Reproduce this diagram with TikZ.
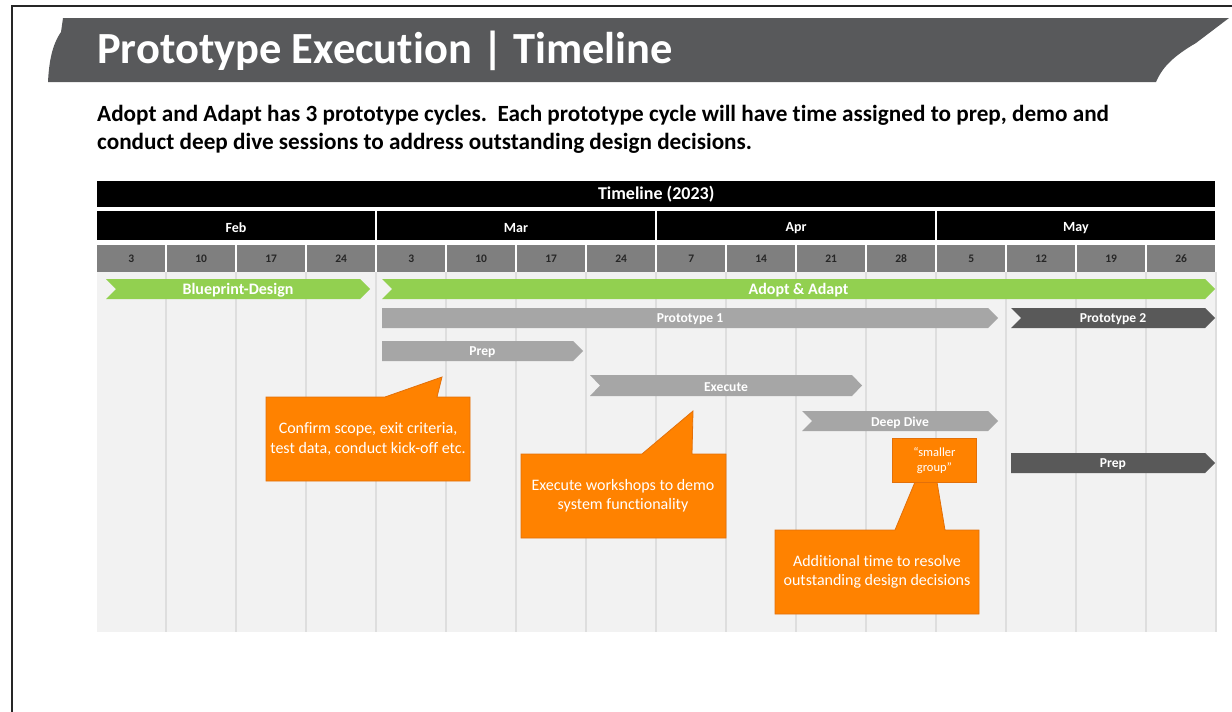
\documentclass[tikz,border=0pt]{standalone}
\usepackage{fontspec}
\setmainfont{Carlito}[Ligatures=NoCommon]
\definecolor{banner}{HTML}{58595B}
\definecolor{weekgray}{HTML}{7F7F7F}
\definecolor{panel}{HTML}{F2F2F2}
\definecolor{gridline}{HTML}{DEDEDE}
\definecolor{leaf}{HTML}{92D050}
\definecolor{lightbar}{HTML}{A6A6A6}
\definecolor{darkbar}{HTML}{595959}
\definecolor{callfill}{RGB}{255,130,0}
\definecolor{callline}{RGB}{226,112,10}
\newcommand{\fs}[1]{\fontsize{#1}{1.2\dimexpr#1pt\relax}\selectfont}
% bar: name, x-left, x-right, y-top, y-bottom, left notch depth, colour, label, font size
\newcommand{\tlbar}[9]{%
  \fill[#7] (#2,#4) -- ({#3-10},#4) -- (#3,{(#4+#5)/2}) -- ({#3-10},#5)
     -- (#2,#5) -- ({#2+#6},{(#4+#5)/2}) -- cycle;
  \node[barlabel,font=\bfseries\fs{#9}] (#1) at ({(#2+#3)/2},{(#4+#5)/2+1.5}) {#8};}
\begin{document}
\begin{tikzpicture}[x=1pt,y=-1pt,
  barlabel/.style={text=white,inner sep=0pt},
  monthcell/.style={fill=black,text=white,inner sep=0pt,anchor=north west,
     minimum width=278pt,minimum height=29pt,font=\bfseries\fs{14}},
  monthlabel/.style={text=white,inner sep=0pt,font=\bfseries\fs{14}},
  weekcell/.style={fill=weekgray,text=black!85,inner sep=0pt,anchor=north west,
     minimum width=68pt,minimum height=27pt,font=\bfseries\fs{11.5}},
  callout/.style={fill=callfill,draw=callline,line width=0.8pt,line join=miter},
  calltext/.style={text=white,align=center,inner sep=0pt,font=\fs{16}}]
\useasboundingbox (0,0) rectangle (1232,712);
% page frame
\draw[line width=2pt,black!85] (12,712) -- (12,6) -- (1232,6);
% title banner
\fill[banner] (63,18) -- (1229,18) -- (1196,43)
   .. controls (1172,57) and (1162,68) .. (1156,82) -- (48,82)
   .. controls (49,62) and (52,45) .. (61,32) -- cycle;
\node[anchor=base west,text=white,inner sep=0pt,font=\bfseries\fs{44.5}] (title)
   at (97,63) {Prototype Execution | Timeline};
\node[anchor=base west,inner sep=0pt,font=\bfseries\fs{23.2}] (sub1) at (97,121)
   {Adopt and Adapt has 3 prototype cycles.\ \ Each prototype cycle will have time assigned to prep, demo and};
\node[anchor=base west,inner sep=0pt,font=\bfseries\fs{23.2}] (sub2) at (97,149)
   {conduct deep dive sessions to address outstanding design decisions.};
% timeline header
\node[fill=black,text=white,inner sep=0pt,anchor=north west,minimum width=1118pt,
   minimum height=26pt,font=\bfseries\fs{18}] (hdr) at (97,181) {Timeline (2023)};
\foreach \m/\nm [count=\i from 0] in {Feb/feb,Mar/mar,Apr/apr,May/may} {
  \fill[black] ({97+280*\i},211) rectangle ({375+280*\i},240);
  \node[monthlabel] (\nm) at ({236+280*\i},228) {\m};
}
\foreach \d [count=\i from 0] in {3,10,17,24,3,10,17,24,7,14,21,28,5,12,19,26}
  \node[weekcell] (wk\i) at ({97+70*\i},245) {\d};
% panel with week grid
\fill[panel] (97,272) rectangle (1215,632);
\foreach \i in {1,...,16}
  \draw[gridline,line width=1.5pt] ({97+70*\i-1},272) -- ({97+70*\i-1},632);
% phase bars
\tlbar{blueprint}{106}{370}{279}{299}{10}{leaf}{Blueprint-Design}{16}
\tlbar{adopt}{382}{1215}{279}{299}{10}{leaf}{Adopt \& Adapt}{16}
\tlbar{proto1}{382}{998}{308}{328}{0}{lightbar}{Prototype 1}{13.6}
\tlbar{proto2}{1011}{1215}{308}{328}{10}{darkbar}{Prototype 2}{13.6}
\tlbar{prep1}{382}{583}{341}{361}{0}{lightbar}{Prep}{13.6}
\tlbar{execute}{590}{862}{375}{396}{10}{lightbar}{Execute}{13.6}
\tlbar{deepdive}{802}{998}{411}{431}{10}{lightbar}{Deep Dive}{13.6}
\tlbar{prep2}{1011}{1215}{453}{473}{0}{darkbar}{Prep}{13.6}
% callouts
\path[callout] (266,397) -- (385,397) -- (442,377) -- (437,397) -- (470,397)
   -- (470,481) -- (266,481) -- cycle;
\node[calltext] (scope) at (368,439)
   {Confirm scope, exit criteria,\\test data, conduct kick-off etc.};
\path[callout] (521,454) -- (642,454) -- (693,411) -- (692,454) -- (726,454)
   -- (726,538) -- (521,538) -- cycle;
\node[calltext] (workshops) at (623,496)
   {Execute workshops to demo\\system functionality};
\path[callout] (775,530) -- (895,530) -- (915,482) -- (937,482) -- (945,530)
   -- (979,530) -- (979,614) -- (775,614) -- cycle;
\node[calltext] (additional) at (877,572)
   {Additional time to resolve\\outstanding design decisions};
\node[callout,minimum width=84pt,minimum height=44pt,inner sep=0pt,anchor=north west,
   text=white,align=center,font=\fs{12.5}] (smaller) at (892,438) {“smaller\\group”};
\end{tikzpicture}
\end{document}
